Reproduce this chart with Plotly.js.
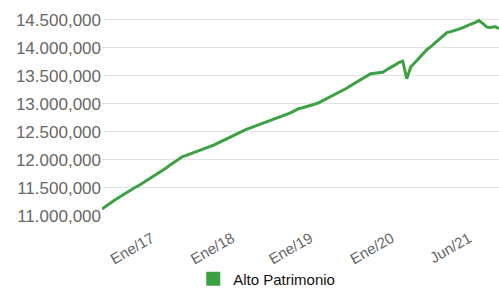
<!DOCTYPE html>
<html>
<head>
<meta charset="utf-8">
<script src="https://cdn.plot.ly/plotly-3.0.1.min.js"></script>
<style>
  html, body { margin: 0; padding: 0; background: #fff; }
  #chart { width: 499px; height: 288px; }
</style>
</head>
<body>
<div id="chart"></div>
<script>
const seriesName = "Alto Patrimonio";
const values = [
  11125000, 11179000, 11232000, 11277000, 11321000, 11366000, 11411000, 11464000, 11500000, 11536000,
  11580000, 11625000, 11679000, 11723000, 11768000, 11812000, 11857000, 11911000, 11964000, 12009000,
  12054000, 12080000, 12107000, 12134000, 12152000, 12179000, 12205000, 12232000, 12268000, 12304000,
  12339000, 12375000, 12411000, 12446000, 12482000, 12518000, 12545000, 12571000, 12598000, 12625000,
  12652000, 12679000, 12696000, 12723000, 12750000, 12786000, 12812000, 12839000, 12875000, 12911000,
  12929000, 12946000, 12964000, 12991000, 13018000, 13054000, 13089000, 13125000, 13161000, 13196000,
  13232000, 13277000, 13321000, 13366000, 13411000, 13446000, 13491000, 13536000, 13545000, 13554000,
  13562000, 13607000, 13643000, 13688000, 13732000, 13759000, 13446000, 13661000, 13732000, 13812000,
  13893000, 13964000, 14018000, 14080000, 14143000, 14205000, 14268000, 14286000, 14304000, 14330000,
  14357000, 14393000, 14420000, 14446000, 14482000, 14429000, 14366000, 14361000, 14375000, 14339000
];
const xTickPositions = [12.4, 32.4, 51.9, 72.2, 91.5];
const xTickLabels = ["Ene/17", "Ene/18", "Ene/19", "Ene/20", "Jun/21"];
const yTickValues = [11000000, 11500000, 12000000, 12500000, 13000000, 13500000, 14000000, 14500000];
const yTickLabels = ["11.000,000", "11.500,000", "12.000,000", "12.500,000", "13.000,000", "13.500,000", "14.000,000", "14.500,000"];

const xIndex = values.map((_, i) => i);
const green = "#3ca142";

const traces = [
  {
    x: xIndex, y: values, type: "scatter", mode: "lines",
    line: { color: green, width: 3 },
    name: seriesName, showlegend: false, hoverinfo: "skip"
  },
  {
    x: [xIndex[0]], y: [null], type: "scatter", mode: "markers",
    marker: { color: green, symbol: "square", size: 14 },
    name: seriesName, showlegend: true
  }
];

const layout = {
  width: 499, height: 288,
  margin: { l: 102, r: 0, t: 14, b: 72, autoexpand: false },
  paper_bgcolor: "#fff", plot_bgcolor: "#fff",
  font: { family: "Liberation Sans, Arial, sans-serif", color: "#666" },
  showlegend: true,
  xaxis: {
    range: [0, 99], showgrid: false, zeroline: false, showline: false, automargin: false,
    tickmode: "array", tickvals: xTickPositions, ticktext: xTickLabels,
    tickangle: -30, ticks: "", ticklabelstandoff: 10, tickfont: { size: 15, color: "#666" }
  },
  yaxis: {
    range: [11000000, 14600000], showgrid: true, gridcolor: "#e3e3e3", gridwidth: 1,
    zeroline: false, showline: false, automargin: false,
    tickmode: "array", tickvals: yTickValues, ticktext: yTickLabels,
    ticks: "", tickfont: { size: 17, color: "#666" }
  },
  legend: {
    orientation: "h", x: 0.415, xanchor: "center", y: -0.23, yanchor: "top",
    font: { size: 15, color: "#111" }, bgcolor: "rgba(0,0,0,0)"
  }
};

Plotly.newPlot("chart", traces, layout, { staticPlot: true, displayModeBar: false });
</script>
</body>
</html>
